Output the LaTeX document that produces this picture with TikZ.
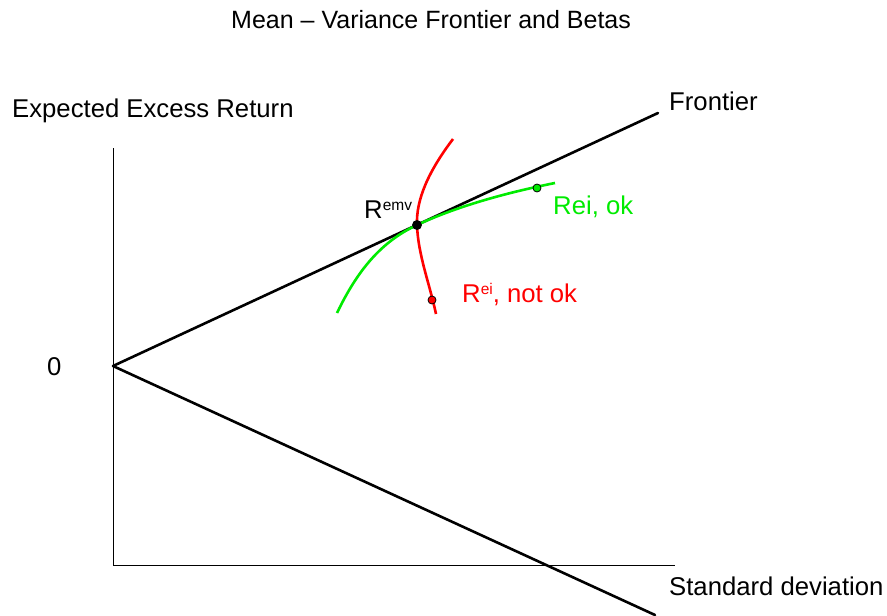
\documentclass[tikz,border=0pt]{standalone}
\usepackage{fontspec}
\setmainfont{Liberation Sans}
\newcommand{\supx}[1]{\raisebox{8pt}{\fontsize{15.5}{15.5}\selectfont #1}}
\begin{document}
\begin{tikzpicture}[x=1pt,y=-1pt,
  lbl/.style={anchor=base west,inner sep=0pt,font=\fontsize{25.7}{30}\selectfont},
  thick line/.style={line width=2.6pt},
  axis line/.style={line width=1pt},
  dotstyle/.style={circle,draw=black,line width=0.8pt,inner sep=0pt,minimum size=8pt}]
\useasboundingbox (0,0) rectangle (887,616);
\definecolor{lgreen}{RGB}{0,235,0}
% coordinates
\coordinate (O) at (113,366);
\coordinate (ytop) at (113,148);
\coordinate (corner) at (113,565);
\coordinate (xend) at (675,565);
\coordinate (fu) at (658,113);
\coordinate (fl) at (655,615);
\coordinate (emv) at (417,225);
\coordinate (rtop) at (453,139);
\coordinate (rbot) at (436,314);
\coordinate (gbot) at (337,313);
\coordinate (gtop) at (555,183);
% axes
\draw[axis line] (ytop) -- (corner) -- (xend);
% frontier
\draw[thick line,line cap=round] (O) -- (fu);
\draw[thick line,line cap=round] (O) -- (fl);
% curves
\draw[thick line,red] (rtop) .. controls (428,172) and (416,200) .. (emv)
  .. controls (418,255) and (430,285) .. (rbot);
\draw[thick line,lgreen] (gbot) .. controls (360,265) and (385,240) .. (emv)
  .. controls (460,205) and (510,192) .. (gtop);
% dots
\node[dotstyle,fill=black,minimum size=9pt] (emvdot) at (emv) {};
\node[dotstyle,fill=lgreen] (gdot) at (537,188) {};
\node[dotstyle,fill=red] (rdot) at (432,300) {};
% labels
\node[lbl,font=\fontsize{25}{30}\selectfont] (title) at (231,28) {Mean – Variance Frontier and Betas};
\node[lbl] (ylab) at (12,117) {Expected Excess Return};
\node[lbl] (front) at (669,110) {Frontier};
\node[lbl] (xlab) at (669,595) {Standard deviation};
\node[lbl] (zero) at (47,375) {0};
\node[lbl] (remv) at (364,218) {R\supx{emv}};
\node[lbl,text=lgreen] (rok) at (553,214) {Rei, ok};
\node[lbl,text=red] (rnok) at (462,302) {R\supx{ei}, not ok};
\end{tikzpicture}
\end{document}
